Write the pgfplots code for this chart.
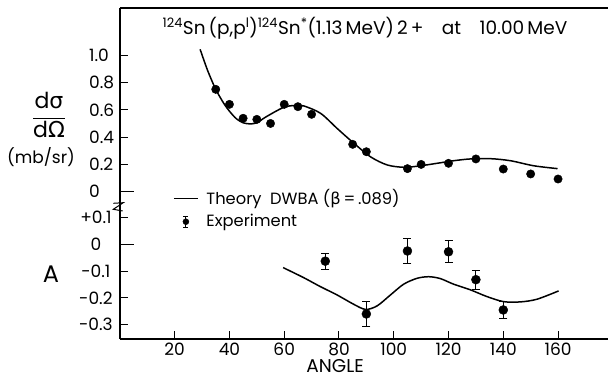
\documentclass[border=0pt]{standalone}
\usepackage{fontspec}
\setmainfont{Poppins}
\newfontfamily\greekfont{DejaVu Sans}
\usepackage{pgfplots}
\pgfplotsset{compat=1.18}
\newcommand{\tl}[1]{\mbox{\fontsize{17}{19}\selectfont #1}}
\begin{document}
\fontsize{17}{19}\selectfont
\begin{tikzpicture}[x=1pt,y=1pt]
% ---------------- top panel: cross section ----------------
\begin{axis}[
  at={(119.9pt,174pt)}, anchor=south west, scale only axis,
  width=488pt, height=197pt,
  xmin=0, xmax=178.2, ymin=-0.0974, ymax=1.346,
  axis x line=top, axis y line=left,
  axis line style={-, line width=1.2pt},
  tick align=inside,
  xtick=\empty,
  ytick={0.2,0.4,0.6,0.8,1.0},
  yticklabels={\tl{0.2},\tl{0.4},\tl{0.6},\tl{0.8},\tl{1.0}},
  extra y ticks={0}, extra y tick labels={\tl{0}},
  extra y tick style={major tick length=14pt},
  major tick length=8pt, tick style={line width=1pt, black},
  /pgf/number format/assume math mode=true,
  yticklabel style={anchor=west, inner sep=0pt, xshift=-31pt},
  clip=false,
]
\addplot[black, line width=1.5pt, smooth, tension=0.5] coordinates {
 (29.3,1.043)(32,0.89)(35,0.75)(38,0.645)(40,0.59)(42.5,0.535)(45,0.505)(47.5,0.497)(50,0.505)
 (53.5,0.55)(59.8,0.618)(64,0.632)(67.2,0.628)(73.3,0.574)(79.3,0.464)(84.8,0.366)
 (91.5,0.256)(97.6,0.196)(103.6,0.179)(109.1,0.188)(115.8,0.208)(121.9,0.227)(128,0.24)
 (135.3,0.242)(142.6,0.227)(151.1,0.19)(159.8,0.169)};
\addplot[only marks, mark=*, mark size=4.2pt, black] coordinates {
 (35,0.75)(40,0.64)(45,0.538)(50,0.53)(55,0.50)(60,0.64)(65,0.623)(70,0.567)
 (85,0.347)(90,0.293)(105,0.169)(110,0.20)(120,0.208)(130,0.24)(140,0.166)(150,0.13)(160,0.093)};
\node[font=\fontsize{18.5}{20}\selectfont] at (axis cs:89.5,1.20)
 {\textsuperscript{124}Sn\,(p,p\textsuperscript{l})\textsuperscript{124}Sn\textsuperscript{*}(1.13\,MeV)\,2\,+\quad at\quad 10.00\,MeV};
\end{axis}
% ---------------- bottom panel: analysing power ----------------
\begin{axis}[
  at={(119.9pt,40pt)}, anchor=south west, scale only axis,
  width=488pt, height=134pt,
  xmin=0, xmax=178.2, ymin=-0.3534, ymax=0.1466,
  axis x line=bottom, axis y line=left,
  axis line style={-, line width=1.2pt},
  tick align=inside,
  xtick={20,40,60,80,100,120,140,160},
  xticklabels={\tl{20},\tl{40},\tl{60},\tl{80},\tl{100},\tl{120},\tl{140},\tl{160}},
  ytick={-0.3,-0.2,-0.1,0.1},
  yticklabels={\tl{-0.3},\tl{-0.2},\tl{-0.1},\tl{+0.1}},
  extra y ticks={0}, extra y tick labels={\tl{0}},
  extra y tick style={major tick length=14pt},
  major tick length=8pt, tick style={line width=1pt, black},
  /pgf/number format/assume math mode=true,
  yticklabel style={anchor=center, xshift=-24pt},
  xticklabel style={anchor=north, inner sep=0pt, yshift=-3.5pt},
  xlabel={ANGLE},
  xlabel style={at={(rel axis cs:0.441,0)}, anchor=center, inner sep=0pt, yshift=-27pt, font=\fontsize{18.5}{20}\selectfont},
  legend style={at={(rel axis cs:0.109,1.125)}, anchor=north west, draw=none, fill=none,
    inner sep=0pt, row sep=5pt, font=\fontsize{16.3}{18}\selectfont,
    nodes={inner sep=1pt}},
  legend cell align=left,
  clip=false,
]
\addlegendimage{black, line width=1.2pt, legend image code/.code={\draw[black, line width=1.2pt] (0pt,0pt) -- (24pt,0pt);}}
\addlegendentry{\hspace{7pt}Theory\ \ DWBA\ ({\greekfont β}\,=\,.089)}
\addlegendimage{legend image code/.code={
  \draw[black, line width=1pt] (12pt,-5.5pt) -- (12pt,5.5pt);
  \draw[black, line width=1pt] (9.5pt,5.5pt) -- (14.5pt,5.5pt);
  \draw[black, line width=1pt] (9.5pt,-5.5pt) -- (14.5pt,-5.5pt);
  \fill[black] (12pt,0pt) circle (3pt);}}
\addlegendentry{\hspace{7pt}Experiment}
\addplot[black, line width=1.5pt, smooth, tension=0.5, forget plot] coordinates {
 (59.6,-0.087)(67.2,-0.125)(73.2,-0.158)(79.3,-0.189)(85.4,-0.224)(89.7,-0.243)(93.9,-0.23)
 (98.8,-0.189)(103.6,-0.149)(108.5,-0.127)(112.8,-0.121)(117,-0.128)(121.9,-0.149)(128,-0.17)
 (134,-0.195)(140.1,-0.214)(146.2,-0.215)(152.3,-0.205)(160.2,-0.174)};
\addplot[only marks, mark=*, mark size=4.5pt, black, forget plot,
  error bars/.cd, y dir=both, y explicit,
  error bar style={line width=1pt, black},
  error mark options={rotate=90, mark size=4pt, line width=1pt, black}]
 coordinates {
 (75,-0.063) +- (0,0.03)
 (90,-0.26) +- (0,0.045)
 (105,-0.025) +- (0,0.048)
 (120,-0.028) +- (0,0.041)
 (130,-0.132) +- (0,0.036)
 (140,-0.245) +- (0,0.031)};
\end{axis}
% axis break mark
\draw[line width=1pt] (113.3,175.7) -- (123.3,176.3) -- (113.3,169.7) -- (122.7,168);
% y-axis titles
\node[font=\fontsize{22}{24}\selectfont] at (49,264)
 {$\displaystyle\frac{\mbox{d{\greekfont σ}}}{\mbox{d{\greekfont Ω}}}$};
\node[font=\fontsize{17}{19}\selectfont] at (41,222) {(mb/sr)};
\node[font=\fontsize{24}{26}\selectfont] at (51,105) {A};
\pgfresetboundingbox
\path[use as bounding box] (0,0) rectangle (608,379);
\end{tikzpicture}
\end{document}
